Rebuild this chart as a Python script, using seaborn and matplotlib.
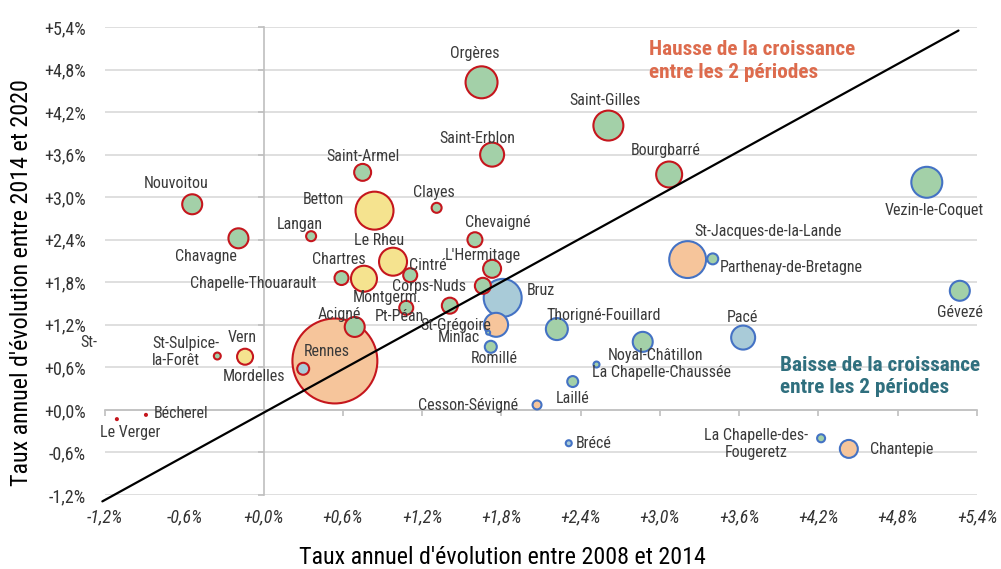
import matplotlib
matplotlib.use("Agg")
import matplotlib.pyplot as plt
import seaborn as sns
import pandas as pd

# données (taux annuels en %)
communes = ["Orgères", "Saint-Gilles", "Saint-Erblon", "Saint-Armel", "Betton", "Clayes",
            "Chevaigné", "Le Rheu", "Langan", "Chartres", "Chapelle-Thouarault", "Cintré",
            "L'Hermitage", "Corps-Nuds", "Bruz", "Montgerm.", "Pt-Péan", "St-Grégoire",
            "Miniac", "Romillé", "Acigné", "Rennes", "Mordelles", "Vern",
            "St-Sulpice-\nla-Forêt", "Bécherel", "Le Verger", "Nouvoitou", "Chavagne",
            "Bourgbarré", "Vezin-le-Coquet", "St-Jacques-de-la-Lande", "Parthenay-de-Bretagne",
            "Gévezé", "Pacé", "Thorigné-Fouillard", "Noyal-Châtillon", "La Chapelle-Chaussée",
            "Laillé", "Cesson-Sévigné", "Brécé", "La Chapelle-des-\nFougeretz", "Chantepie"]
evol_2008_2014 = [1.65, 2.61, 1.73, 0.75, 0.84, 1.31, 1.60, 0.98, 0.36, 0.76, 0.59, 1.11,
                  1.73, 1.66, 1.81, 1.08, 1.41, 1.76, 1.70, 1.72, 0.69, 0.54, 0.30, -0.14,
                  -0.35, -0.89, -1.11, -0.54, -0.19, 3.07, 5.02, 3.21, 3.40, 5.27, 3.63, 2.22,
                  2.87, 2.52, 2.34, 2.07, 2.31, 4.22, 4.43]
evol_2014_2020 = [4.62, 4.01, 3.60, 3.35, 2.81, 2.85, 2.40, 2.09, 2.45, 1.85, 1.86, 1.90,
                  1.99, 1.75, 1.58, 1.44, 1.47, 1.20, 1.09, 0.89, 1.17, 0.69, 0.58, 0.75,
                  0.76, -0.07, -0.13, 2.90, 2.42, 3.32, 3.21, 2.12, 2.13, 1.68, 1.02, 1.14,
                  0.96, 0.64, 0.40, 0.07, -0.47, -0.40, -0.55]
poids = [256, 225, 144, 72, 361, 25, 56, 196, 25, 169, 49, 49,
         81, 64, 361, 49, 64, 144, 4, 36, 100, 1806, 36, 64,
         12, 1, 1, 100, 100, 169, 240, 340, 30, 100, 144, 121,
         100, 9, 30, 20, 9, 16, 81]
typologie = ["v", "v", "v", "v", "j", "v", "v", "j", "v", "j", "v", "v",
             "v", "v", "b", "v", "v", "o", "v", "v", "v", "o", "b", "j",
             "v", "r", "r", "v", "v", "v", "v", "o", "v", "v", "b", "v",
             "v", "v", "v", "o", "b", "v", "o"]

graduations = [-1.2, -0.6, 0.0, 0.6, 1.2, 1.8, 2.4, 3.0, 3.6, 4.2, 4.8, 5.4]
etiquettes = [f"{g:+.1f}%".replace(".", ",") for g in graduations]
diag_x = [-1.22, 5.26]
diag_y = [-1.29, 5.35]

couleurs = {"v": "#a3d0a8", "j": "#f5e38f", "o": "#f6c59b", "b": "#a9cbd8", "r": "#c00000"}

# décalage des noms (pixels) : dx, dy, alignement
decalages = {
    "Orgères": (-7, 29, "center"), "Saint-Gilles": (-3, 25, "center"),
    "Saint-Erblon": (-15, 16, "center"), "Saint-Armel": (0, 16, "center"),
    "Betton": (-51, 11, "center"), "Clayes": (-3, 15, "center"),
    "Chevaigné": (23, 17, "center"), "Le Rheu": (-14, 21, "center"),
    "Langan": (-11, 12, "center"), "Chartres": (-25, 19, "center"),
    "Chapelle-Thouarault": (-88, -5, "center"), "Cintré": (18, 10, "center"),
    "L'Hermitage": (-9, 13, "center"), "Corps-Nuds": (-54, -1, "center"),
    "Bruz": (38, 7, "center"), "Montgerm.": (-19, 10, "center"),
    "Pt-Péan": (-50, -11, "center"), "St-Grégoire": (-40, -1, "center"),
    "Miniac": (-29, -5, "center"), "Romillé": (3, -12, "center"),
    "Acigné": (-15, 12, "center"), "Rennes": (-8, 9, "center"),
    "Mordelles": (-49, -8, "center"), "Vern": (-3, 19, "center"),
    "St-Sulpice-\nla-Forêt": (-65, 4, "left"), "Bécherel": (8, 1, "left"),
    "Le Verger": (13, -13, "center"), "Nouvoitou": (-16, 21, "center"),
    "Chavagne": (-33, -18, "center"), "Bourgbarré": (-3, 24, "center"),
    "Vezin-le-Coquet": (7, -28, "center"), "St-Jacques-de-la-Lande": (80, 28, "center"),
    "Parthenay-de-Bretagne": (78, -9, "center"), "Gévezé": (0, -22, "center"),
    "Pacé": (-1, 20, "center"), "Thorigné-Fouillard": (47, 14, "center"),
    "Noyal-Châtillon": (13, -14, "center"), "La Chapelle-Chaussée": (65, -8, "center"),
    "Laillé": (0, -17, "center"), "Cesson-Sévigné": (-69, -1, "center"),
    "Brécé": (7, 0, "left"), "La Chapelle-des-\nFougeretz": (-65, -6, "center"),
    "Chantepie": (53, -1, "center"),
}

sns.set_theme(style="white")
plt.rcParams["font.family"] = ["Roboto Condensed", "Liberation Sans Narrow", "Roboto", "DejaVu Sans"]

df = pd.DataFrame({"commune": communes, "x": evol_2008_2014, "y": evol_2014_2020,
                   "poids": poids, "type": typologie})
df["bord"] = ["#c5161d" if b > a else "#4472c4" for a, b in zip(df["x"], df["y"])]
df = df.sort_values("poids", ascending=False).reset_index(drop=True)

fig = plt.figure(figsize=(10.01, 5.69), dpi=100)
ax = fig.add_axes([105 / 1001, 74 / 569, 872 / 1001, 468 / 569])

k = 2.07
sns.scatterplot(data=df, x="x", y="y", hue="type", palette=couleurs,
                size="poids", sizes=(k * min(poids), k * max(poids)),
                size_norm=(min(poids), max(poids)),
                edgecolor=df["bord"].tolist(), linewidth=1.5, legend=False,
                ax=ax, zorder=3, alpha=1)

ax.plot(diag_x, diag_y, color="black", lw=1.6, zorder=4, clip_on=False)

for nom, x, y in zip(df["commune"], df["x"], df["y"]):
    dx, dy, ha = decalages[nom]
    ax.annotate(nom, (x, y), xytext=(dx, dy), textcoords="offset pixels",
                ha=ha, va="center", fontsize=11.5, color="#3a3a3a", zorder=5,
                linespacing=1.2)
ax.text(-1.32, 0.95, "St-", ha="center", va="center", fontsize=11.5, color="#3a3a3a")

ax.text(2.92, 4.92, "Hausse de la croissance\nentre les 2 périodes", ha="left", va="center",
        fontsize=15.3, fontweight="bold", color="#dd6b4d", linespacing=1.25)
ax.text(3.91, 0.47, "Baisse de la croissance\nentre les 2 périodes", ha="left", va="center",
        fontsize=15.3, fontweight="bold", color="#2f6f7e", linespacing=1.25)

ax.set_xlim(graduations[0], graduations[-1])
ax.set_ylim(graduations[0], graduations[-1])
ax.set_xticks(graduations)
ax.set_yticks(graduations)
ax.yaxis.grid(True, color="#d9d9d9", lw=1.2)
ax.xaxis.grid(False)
for c in ["top", "right"]:
    ax.spines[c].set_visible(False)
for c in ["left", "bottom"]:
    ax.spines[c].set_position(("data", 0))
    ax.spines[c].set_color("#bfbfbf")
    ax.spines[c].set_linewidth(1.2)
    ax.spines[c].set_zorder(2)
ax.tick_params(axis="both", direction="out", length=4, width=1.2, color="#bfbfbf",
               labelbottom=False, labelleft=False, bottom=True, left=True)
ax.set_xlabel("")
ax.set_ylabel("")

sx = ax.secondary_xaxis("bottom")
sx.set_xticks(graduations, etiquettes, fontstyle="italic")
sx.tick_params(length=0, pad=10, labelsize=13, labelcolor="#333333")
sx.spines["bottom"].set_visible(False)

sy = ax.secondary_yaxis("left")
sy.set_yticks(graduations, etiquettes)
sy.tick_params(length=0, pad=14, labelsize=13, labelcolor="#333333")
sy.spines["left"].set_visible(False)

fig.text(502 / 1001, 1 - 557 / 569, "Taux annuel d'évolution entre 2008 et 2014",
         ha="center", va="center", fontsize=17.3, color="black")
fig.text(22 / 1001, 1 - 283 / 569, "Taux annuel d'évolution entre 2014 et 2020",
         ha="center", va="center", fontsize=17.3, rotation=90, color="black")

fig.savefig("out.png", dpi=100)
